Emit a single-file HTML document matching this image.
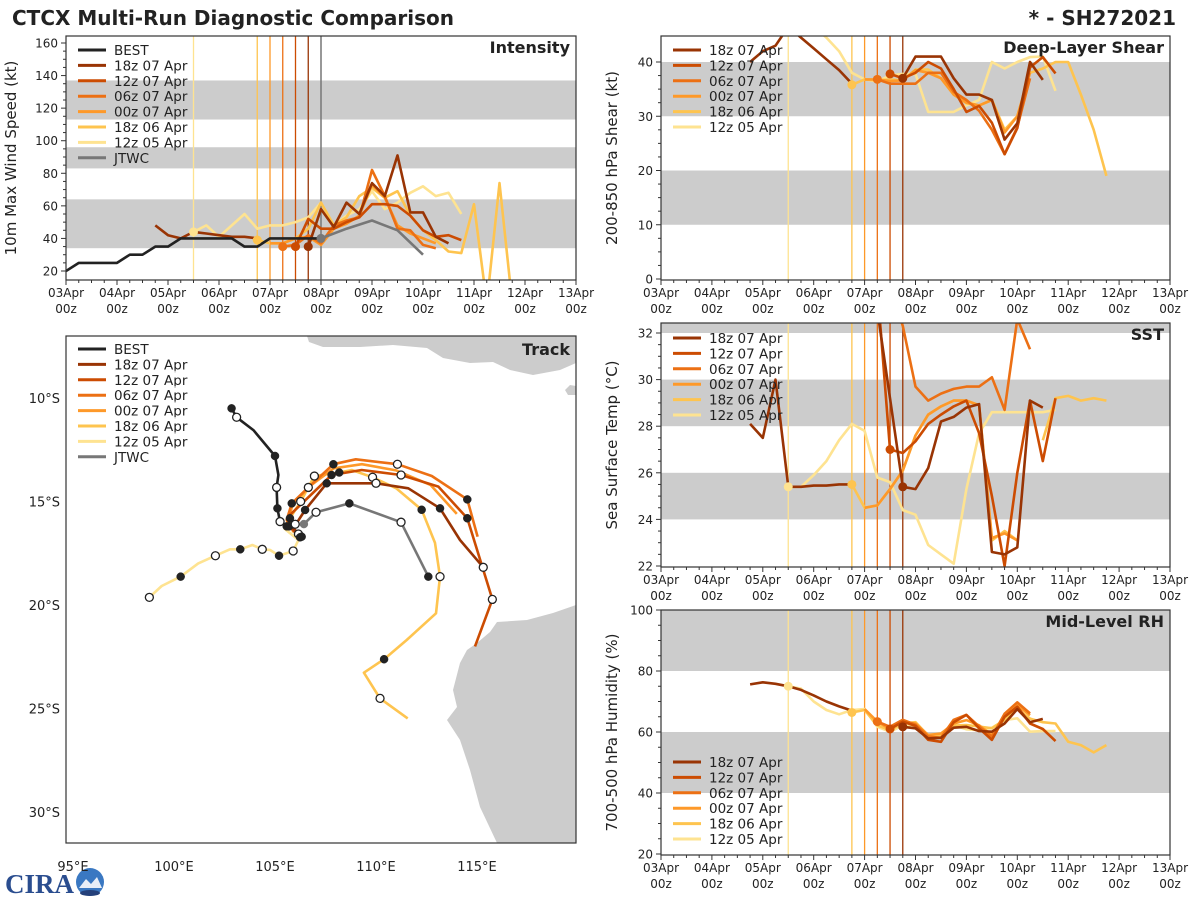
<!DOCTYPE html>
<html><head><meta charset="utf-8"><style>
html,body{margin:0;padding:0;background:#fff}
svg{display:block;font-family:"DejaVu Sans","Liberation Sans",sans-serif}
</style></head><body>
<svg id="fig" width="1200" height="900" viewBox="0 0 1200 900" xmlns="http://www.w3.org/2000/svg">
<text x="12" y="25" font-size="20" font-weight="bold" fill="#222">CTCX Multi-Run Diagnostic Comparison</text>
<text x="1176" y="25" font-size="20" font-weight="bold" fill="#222" text-anchor="end">* - SH272021</text>
<g>
<text x="5" y="893" font-size="27" font-weight="bold" fill="#2a4d8f" font-family="Liberation Serif,serif">CIRA</text>
<circle cx="90" cy="882" r="14" fill="#3a78c2"/>
<path d="M79 888 L86 879 L91 884 L97 877 L102 888 Z" fill="#e8eef7"/>
<ellipse cx="90" cy="893" rx="10" ry="3" fill="#24407a"/>
</g>
</svg>
<script>
// ---------- data: time axis (days since 03Apr 00z) ----------
const runNames = ["18z 07 Apr","12z 07 Apr","06z 07 Apr","00z 07 Apr","18z 06 Apr","12z 05 Apr"];
const runColors = ["#993404","#cc4c02","#ec7014","#fe9929","#fec44f","#fee391"];
const runInit = [4.75,4.5,4.25,4.0,3.75,2.5];
const dayLabels = ["03Apr","04Apr","05Apr","06Apr","07Apr","08Apr","09Apr","10Apr","11Apr","12Apr","13Apr"];

// Intensity (kt)
const bestStart = 0;
const bestInt = [20,25,25,25,25,30,30,35,35,40,40,40,40,40,35,35,40,40,40,40,40];
const jtwcStart = 5.0, jtwcStep = 0.5;
const jtwcInt = [40,46,51,45,30];
const intStarts = [1.75,4.5,4.25,4.0,3.75,2.5];
const int18z07 = [48,42,40,44,43,42,41,41,40,null,null,null,35,58,47,62,55,74,66,91,56,56,41,37];
const int12z07 = [35,52,46,46,50,53,61,61,60,54,45,41,42,39];
const int06z07 = [35,36,42,37,48,51,53,82,66,46,45,36,34];
const int00z07 = [37,37,40,41,36,46,49,54,73,65,48,43,40,37];
const int18z06 = [39,37,37,40,46,62,48,53,66,71,65,69,54,45,39,32,31,61,0,74,0];
const int12z05 = [44,48,41,48,55,46,48,48,50,53,62,48,54,58,69,58,62,68,72,66,68,55];

// Shear (kt)
const shrStarts = [1.75,4.5,4.25,4.0,3.75,2.5];
const shr18z07 = [40,42,43,46.5,44.5,42.5,40.5,38.5,36,null,null,null,37,41,41,41,37,34,34,33,25.7,28.7,40,36.7];
const shr12z07 = [37.8,37,38,40,38.8,35,30.8,31.9,28.8,23,27.8,39,40.9,37.9];
const shr06z07 = [36.8,36,36,36,38,38,34.5,33,31,27.5,23,28,37];
const shr00z07 = [36.8,36.8,36.5,36.6,38.5,38,37,34,32.5,32,33,27,30,38];
const shr18z06 = [35.8,36.8,36.6,36.8,36.6,38.6,38.6,37,34,32.4,32,33,27.5,30,38,38.8,40,40,34,27.5,19];
const shr12z05 = [49,48,46.5,44.5,42,38,36.8,36.4,37.5,37.8,37.8,30.8,30.8,30.8,32,33,40,38.8,40,40.9,41,34.7];

// SST (C)
const sstStarts = [1.75,4.25,4.5,4.0,3.75,2.5];
const sst18z07 = [28.1,27.5,30.0,25.4,25.4,25.45,25.45,25.5,25.5,null,33,29.2,25.4,25.3,26.2,28.2,28.4,28.8,28.95,22.6,22.5,22.8,29.1,28.8];
const sst12z07 = [34,27.0,26.85,27.35,28.1,28.5,28.85,29.1,27.7,25.0,22.0,26.0,29.1,26.5,29.2];
const sst06z07 = [34,32.3,29.7,29.1,29.4,29.6,29.7,29.7,30.1,28.7,32.6,31.3];
const sst00z07 = [24.5,24.6,25.3,26.1,27.6,28.5,28.85,29.1,29.1,28.9,23.2,23.4,23.1];
const sst18z06 = [25.5,24.5,24.6,25.3,26.1,27.6,28.5,28.85,29.1,29.1,28.9,23.1,23.5,23.1,null,27.4,29.2,29.3,29.1,29.2,29.1];
const sst12z05 = [25.4,25.4,25.9,26.5,27.4,28.1,27.8,25.8,25.6,24.4,24.2,22.9,22.5,22.1,25.3,27.7,28.6,28.6,28.6,28.6,28.6,28.7];

// RH (%)
const rhStarts = [1.75,4.5,4.25,4.0,3.75,2.5];
const rh18z07 = [75.6,76.3,75.8,75,73.8,72,70,68.4,67,null,null,null,61.7,61.2,57.9,58.1,61.4,61.7,60.3,60.1,62.8,67.5,63.2,64.3];
const rh12z07 = [61,63.4,62,57.4,56.8,63.2,65.6,61.2,57.4,65,68.3,62.8,61,57];
const rh06z07 = [63.4,61.7,64,62.4,58.5,58.1,64,65.6,61.8,58.5,66,69.7,66.1];
const rh00z07 = [67.5,63.4,61,63.4,62.8,59,59.5,62.8,63.9,62.2,59,65,68.8,65.5];
const rh18z06 = [66.4,67.2,62.2,60.6,62.8,63.2,58.8,58.8,62.1,62.3,61.8,61.2,64,67.5,64.4,63.2,62.8,56.8,55.7,53.3,55.7];
const rh12z05 = [75,74.2,70,67.2,65.8,67.2,67.5,61.7,60.1,62.1,61.7,59,59.5,62.2,60.9,60.6,61.4,63.9,64.5,60.1,60.3,60.3];

// Track (lon E, lat S, marker)
const bestLon = [102.85,103.1,103.93,105.0,105.17,105.08,105.12,105.25,105.58,106.0];
const bestLat = [10.5,10.93,11.55,12.8,13.72,14.32,15.33,15.97,16.2,16.1];
const bestMk  = ["f","o","","f","","o","f","o","f","o"];
const jtwcLon = [106.43,107.03,108.68,111.24,112.59];
const jtwcLat = [16.09,15.52,15.09,16.0,18.63];
const jtwcMk  = ["g","o","f","o","f"];
const t18z07Lon = [106.32,105.9,106.49,107.56,110.0,111.6,113.17,114.16,115.31];
const t18z07Lat = [16.7,16.3,15.41,14.12,14.12,14.36,15.33,16.86,18.18];
const t18z07Mk  = ["f","","f","f","o","","f","","o"];
const t12z07Lon = [106.24,105.7,105.74,107.8,109.29,111.24,113.09,114.52,115.76,114.9];
const t12z07Lat = [16.73,16.2,15.65,13.72,13.48,13.72,14.28,15.81,19.73,22.0];
const t12z07Mk  = ["f","f","","f","","o","","f","o",""];
const t06z07Lon = [106.16,105.58,105.83,106.65,107.89,109.0,111.06,112.76,114.52,115.03];
const t06z07Lat = [16.57,15.89,15.09,14.32,13.2,12.96,13.2,13.77,14.9,16.7];
const t06z07Mk  = ["o","","f","o","f","","o","","f",""];
const t00z07Lon = [106.1,105.6,105.9,106.8,107.9,109.3,111.0,112.7,114.0];
const t00z07Lat = [16.6,15.95,15.1,14.2,13.4,13.2,13.5,14.2,15.6];
const t00z07Mk  = ["","","","","","","","",""];
const t18z06Lon = [105.9,105.74,106.27,106.95,108.18,108.8,109.83,111.0,112.26,112.92,113.17,112.97,111.52,110.4,109.4,110.2,111.57];
const t18z06Lat = [16.5,15.81,15.0,13.77,13.6,13.48,13.83,14.36,15.4,17.0,18.63,20.4,21.69,22.62,23.27,24.51,25.48];
const t18z06Mk  = ["","f","o","o","f","","o","","f","","o","","","f","","o",""];
const t12z05Lon = [105.45,106.16,105.9,105.2,104.75,104.37,103.88,103.28,102.77,102.05,101.2,100.33,99.39,98.78];
const t12z05Lat = [16.3,16.86,17.39,17.62,17.34,17.31,17.1,17.31,17.31,17.62,17.99,18.63,19.08,19.63];
const t12z05Mk  = ["","","o","f","","o","","f","","o","","f","","o"];

// ---------- drawing ----------
const NS="http://www.w3.org/2000/svg";
const svg=document.getElementById('fig');
function el(tag,attrs,parent){const e=document.createElementNS(NS,tag);for(const k in attrs)e.setAttribute(k,attrs[k]);(parent||svg).appendChild(e);return e;}
function txt(s,attrs,parent){const e=el('text',attrs,parent);e.textContent=s;return e;}

function makeTimePanel(p){
  const g=el('g',{});
  
  
  const xOf=d=>p.x0+(d-0)*(p.x1-p.x0)/10;
  const yOf=v=>p.ya+(v-p.va)*(p.yb-p.ya)/(p.vb-p.va);
  el('rect',{x:p.x0,y:p.y0,width:p.x1-p.x0,height:p.y1-p.y0,fill:'#fff'},g);
  const cid='clip-'+p.name;
  const cp=el('clipPath',{id:cid},g);el('rect',{x:p.x0,y:p.y0,width:p.x1-p.x0,height:p.y1-p.y0},cp);
  const inner=el('g',{'clip-path':'url(#'+cid+')'},g);
  p.bands.forEach(b=>{
    const r=el('rect',{x:p.x0,y:yOf(b[1]),width:p.x1-p.x0,height:yOf(b[0])-yOf(b[1]),fill:'#cccccc'},inner);
    
    
  });
  runInit.forEach((d,i)=>{
    const l=el('line',{x1:xOf(d),x2:xOf(d),y1:p.y0,y2:p.y1,stroke:runColors[i],'stroke-width':1.3},inner);
    
    
  });
  if(p.jtwc){const l=el('line',{x1:xOf(5),x2:xOf(5),y1:p.y0,y2:p.y1,stroke:'#777','stroke-width':1.5},inner);
    
    }
  function drawSeries(vals,start,step,color,name,w){
    let d='',pen=false;
    vals.forEach((v,i)=>{ if(v===null){pen=false;return;}
      d+=(pen?'L':'M')+xOf(start+i*step).toFixed(1)+' '+yOf(v).toFixed(1)+' ';pen=true;});
    const path=el('path',{d:d,fill:'none',stroke:color,'stroke-width':w||2.6,'stroke-linejoin':'round'},inner);
    
    
  }
  for(let i=5;i>=0;i--){drawSeries(p.series[i],p.starts[i],0.25,runColors[i],'series-'+runNames[i].replace(/ /g,'-').toLowerCase());}
  if(p.best){drawSeries(bestInt,bestStart,0.25,'#222','series-best',2.6);}
  if(p.jtwc){drawSeries(jtwcInt,jtwcStart,jtwcStep,'#777','series-jtwc',2.6);}
  for(let i=5;i>=0;i--){
    if(i===3)continue;
    const k=Math.round((runInit[i]-p.starts[i])/0.25);const v=p.series[i][k];
    if(v===undefined||v===null)continue;
    const c=el('circle',{cx:xOf(runInit[i]),cy:yOf(v),r:4.5,fill:runColors[i]},inner);
    
    
  }
  if(p.jtwc){const c=el('circle',{cx:xOf(jtwcStart),cy:yOf(jtwcInt[0]),r:4.5,fill:'#777'},inner);
    
    }
  el('rect',{x:p.x0,y:p.y0,width:p.x1-p.x0,height:p.y1-p.y0,fill:'none',stroke:'#333','stroke-width':1.2},g);
  for(let q=0;q<=40;q++){const d=q*0.25;const x=xOf(d);const major=q%4===0;
    el('line',{x1:x,x2:x,y1:p.y1,y2:p.y1+(major?5:3),stroke:'#333','stroke-width':1},g);
    if(major){const t=txt(dayLabels[q/4],{x:x,y:p.y1+17,'font-size':12,'text-anchor':'middle',fill:'#222'},g);
      
      
      const t2=txt('00z',{x:x,y:p.y1+33,'font-size':12,'text-anchor':'middle',fill:'#222'},g);
      
      }
  }
  for(let v=p.tmin;v<=p.tmax+1e-6;v+=p.minor){const y=yOf(v);
    const major=Math.abs((v-p.tmin)/p.major-Math.round((v-p.tmin)/p.major))<1e-6;
    el('line',{x1:p.x0,x2:p.x0-(major?5:3),y1:y,y2:y,stroke:'#333','stroke-width':1},g);
    if(major){const t=txt(String(Math.round(v)),{x:p.x0-8,y:y+4.5,'font-size':12,'text-anchor':'end',fill:'#222'},g);
      
      }
  }
  const cy=(p.y0+p.y1)/2;
  const yt=txt(p.ytitle,{x:0,y:0,'font-size':15,'text-anchor':'middle',fill:'#222',transform:'translate('+(p.x0-p.titleOff)+','+cy+') rotate(-90)'},g);
  
  
  const pt=txt(p.title,{x:p.x1-6,y:p.y0+17,'font-size':16,'font-weight':'bold','text-anchor':'end',fill:'#222'},g);
  
  
  const entries=[];
  if(p.best)entries.push(['BEST','#222']);
  runNames.forEach((n,i)=>entries.push([n,runColors[i]]));
  if(p.jtwc)entries.push(['JTWC','#777']);
  const lg=el('g',{},g);
  
  
  entries.forEach((e,i)=>{const y=p.legY+i*15.4;
    const eg=el('g',{},lg);
    
    
    el('line',{x1:p.x0+12,x2:p.x0+40,y1:y,y2:y,stroke:e[1],'stroke-width':3},eg);
    txt(e[0],{x:p.x0+48,y:y+5,'font-size':13.5,fill:'#222'},eg);});
}

makeTimePanel({name:'intensity',x0:66,x1:576,y0:36,y1:280,ya:271,va:20,yb:43,vb:160,
  bands:[[34,64],[83,96],[113,137]],series:[int18z07,int12z07,int06z07,int00z07,int18z06,int12z05],starts:intStarts,
  best:true,jtwc:true,tmin:20,tmax:160,major:20,minor:5,ytitle:'10m Max Wind Speed (kt)',titleOff:50,title:'Intensity',legY:50});
makeTimePanel({name:'shear',x0:661,x1:1170,y0:36,y1:280,ya:279,va:0,yb:62,vb:40,
  bands:[[10,20],[30,40]],series:[shr18z07,shr12z07,shr06z07,shr00z07,shr18z06,shr12z05],starts:shrStarts,
  tmin:0,tmax:40,major:10,minor:2.5,ytitle:'200-850 hPa Shear (kt)',titleOff:44,title:'Deep-Layer Shear',legY:50});
makeTimePanel({name:'sst',x0:661,x1:1170,y0:323,y1:567,ya:566,va:22,yb:333,vb:32,
  bands:[[24,26],[28,30],[32,34]],series:[sst18z07,sst12z07,sst06z07,sst00z07,sst18z06,sst12z05],starts:sstStarts,
  tmin:22,tmax:32,major:2,minor:0.5,ytitle:'Sea Surface Temp (°C)',titleOff:44,title:'SST',legY:338});
makeTimePanel({name:'rh',x0:661,x1:1170,y0:610,y1:855,ya:854,va:20,yb:610,vb:100,
  bands:[[40,60],[80,100]],series:[rh18z07,rh12z07,rh06z07,rh00z07,rh18z06,rh12z05],starts:rhStarts,
  tmin:20,tmax:100,major:20,minor:5,ytitle:'700-500 hPa Humidity (%)',titleOff:44,title:'Mid-Level RH',legY:762});

// ---------- track panel ----------
(function(){
  const X0=66,X1=576,Y0=336,Y1=843;
  const lonOf=lon=>73+(lon-95)*20.2;
  const latOf=lat=>398+(lat-10)*20.7;
  const g=el('g',{});
  
  
  const cp=el('clipPath',{id:'clip-track'},g);el('rect',{x:X0,y:Y0,width:X1-X0,height:Y1-Y0},cp);
  const inner=el('g',{'clip-path':'url(#clip-track)'},g);
  const land1=el('path',{d:'M576 605 L553 613 L527 620 L497 622 L490 632 L477 643 L467 650 L460 663 L453 690 L457 707 L447 720 L460 740 L470 770 L480 807 L497 843 L576 843 Z',fill:'#cccccc'},inner);
  
  
  const land2=el('path',{d:'M307 336 L309 342 L323 347 L360 347 L393 345 L427 348 L443 358 L470 363 L493 362 L510 370 L533 375 L560 370 L576 363 L576 336 Z M565 390 L570 385 L576 386 L576 395 L568 395 Z',fill:'#cccccc'},inner);
  
  
  function track(lons,lats,mks,color,name){
    let d='';lons.forEach((lo,i)=>{d+=(i?'L':'M')+lonOf(lo).toFixed(1)+' '+latOf(lats[i]).toFixed(1)+' ';});
    const p=el('path',{d:d,fill:'none',stroke:color,'stroke-width':2.6,'stroke-linejoin':'round'},inner);
    
    
    return ()=>{mks.forEach((m,i)=>{if(!m)return;
      const c=el('circle',{cx:lonOf(lons[i]),cy:latOf(lats[i]),r:4,fill:m==='f'?'#222':(m==='g'?'#777':'#fff'),stroke:m==='g'?'#777':'#222','stroke-width':m==='o'?1.3:0.5},inner);
      
      });};
  }
  const mk=[];
  mk.push(track(t12z05Lon,t12z05Lat,t12z05Mk,runColors[5],'track-12z-05-apr'));
  mk.push(track(t18z06Lon,t18z06Lat,t18z06Mk,runColors[4],'track-18z-06-apr'));
  mk.push(track(t00z07Lon,t00z07Lat,t00z07Mk,runColors[3],'track-00z-07-apr'));
  mk.push(track(t06z07Lon,t06z07Lat,t06z07Mk,runColors[2],'track-06z-07-apr'));
  mk.push(track(t12z07Lon,t12z07Lat,t12z07Mk,runColors[1],'track-12z-07-apr'));
  mk.push(track(t18z07Lon,t18z07Lat,t18z07Mk,runColors[0],'track-18z-07-apr'));
  mk.push(track(jtwcLon,jtwcLat,jtwcMk,'#777','track-jtwc'));
  mk.push(track(bestLon,bestLat,bestMk,'#222','track-best'));
  mk.forEach(f=>f());
  el('rect',{x:X0,y:Y0,width:X1-X0,height:Y1-Y0,fill:'none',stroke:'#333','stroke-width':1.2},g);
  [10,15,20,25,30].forEach(lat=>{const t=txt(lat+'°S',{x:60,y:latOf(lat)+5,'font-size':13,'text-anchor':'end',fill:'#222'},g);
    
    });
  [95,100,105,110,115].forEach(lon=>{const t=txt(lon+'°E',{x:lonOf(lon),y:871,'font-size':13,'text-anchor':'middle',fill:'#222'},g);
    
    });
  const pt=txt('Track',{x:X1-6,y:Y0+19,'font-size':16,'font-weight':'bold','text-anchor':'end',fill:'#222'},g);
  
  
  const entries=[['BEST','#222']];runNames.forEach((n,i)=>entries.push([n,runColors[i]]));entries.push(['JTWC','#777']);
  const lg=el('g',{},g);
  
  
  entries.forEach((e,i)=>{const y=349+i*15.4;
    const eg=el('g',{},lg);
    
    
    el('rect',{x:X0+4,y:y-9,width:140,height:16,fill:'#fff','fill-opacity':0.7},eg);
    el('line',{x1:X0+12,x2:X0+40,y1:y,y2:y,stroke:e[1],'stroke-width':3},eg);
    txt(e[0],{x:X0+48,y:y+5,'font-size':13.5,fill:'#222'},eg);});
})();
</script>
</body></html>
